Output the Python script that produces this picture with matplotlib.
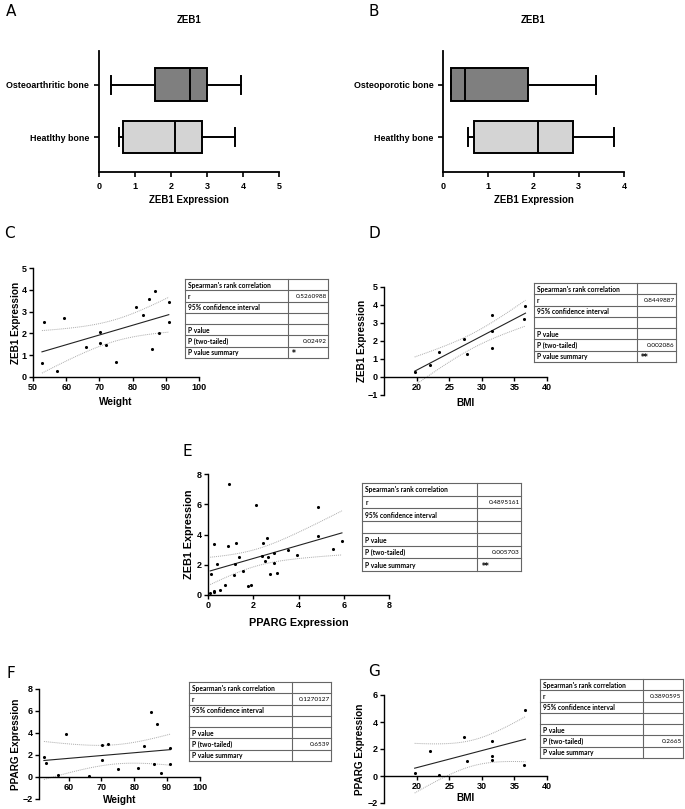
import numpy as np
import matplotlib
matplotlib.use('Agg')
from matplotlib import pyplot as plt

plt.rcParams['font.family'] = ['Liberation Sans', 'DejaVu Sans']

W, H = 685, 809

# box plot summaries: min, q1, median, q3, max
oa_stats = [0.33, 1.55, 2.52, 3.0, 3.95]
healthy_stats = [0.55, 0.68, 2.1, 2.87, 3.77]
op_stats = [0.18, 0.18, 0.48, 1.88, 3.38]

# C: weight vs ZEB1
weight_c = [52.7, 53.3, 57.2, 59.2, 66.1, 70.1, 70.1, 72.0, 75.0, 81.0, 83.0, 84.9, 85.9, 86.8, 87.9, 90.9, 90.9]
zeb1_c = [0.66, 2.51, 0.26, 2.69, 1.38, 2.08, 1.58, 1.49, 0.68, 3.23, 2.85, 3.60, 1.28, 3.95, 2.00, 3.43, 2.52]

# D: BMI vs ZEB1
bmi_d = [19.7, 22.0, 23.4, 27.3, 27.7, 31.5, 31.5, 31.5, 36.5, 36.7]
zeb1_d = [0.26, 0.67, 1.39, 2.11, 1.28, 3.43, 2.54, 1.59, 3.22, 3.96]

# E: PPARG vs ZEB1
pparg_e = [0.10, 0.15, 0.25, 0.25, 0.26, 0.40, 0.53, 0.76, 0.87, 0.95, 1.17, 1.20, 1.23, 1.35, 1.54,
           1.76, 1.88, 2.13, 2.39, 2.42, 2.54, 2.60, 2.64, 2.76, 2.92, 2.92, 3.04, 3.52, 3.95, 4.88,
           4.88, 5.51, 5.92]
zeb1_e = [0.13, 1.39, 3.37, 0.18, 0.29, 2.03, 0.33, 0.68, 3.22, 7.31, 1.30, 2.03, 3.41, 2.51, 1.59,
          0.57, 0.68, 5.95, 2.60, 3.41, 2.25, 3.74, 2.51, 1.39, 2.80, 2.09, 1.48, 2.97, 2.67, 5.84,
          3.92, 3.04, 3.57]

# F: weight vs PPARG
weight_f = [52.5, 53.2, 56.9, 59.1, 66.1, 70.1, 70.1, 72.1, 75.1, 81.1, 83.0, 85.1, 86.1, 87.0, 88.0, 91.0, 91.0]
pparg_f = [1.85, 1.29, 0.18, 3.91, 0.09, 2.89, 1.51, 2.98, 0.74, 0.80, 2.86, 5.91, 1.14, 4.86, 0.34, 2.62, 1.17]

# G: BMI vs PPARG
bmi_g = [19.7, 22.0, 23.4, 27.3, 27.7, 31.5, 31.5, 31.5, 36.5, 36.7]
pparg_g = [0.22, 1.88, 0.10, 2.91, 1.14, 2.62, 1.51, 1.19, 0.81, 4.89]

row_labels = ["Spearman's rank correlation", "r", "95% confidence interval", "",
              "P value", "P (two-tailed)", "P value summary"]
c_values = ["", "0.5260988", "", "", "", "0.02492", "*"]
d_values = ["", "0.8449887", "", "", "", "0.002086", "**"]
e_values = ["", "0.4895161", "", "", "", "0.005703", "**"]
f_values = ["", "0.1270127", "", "", "", "0.6539", ""]
g_values = ["", "0.3890595", "", "", "", "0.2665", ""]

# two sided 95% t values for the df used below
T_CRIT = {8: 2.306, 15: 2.131, 31: 2.040}

fig = plt.figure(figsize=(W / 100, H / 100), dpi=100)


def px_axes(left, top, right, bottom):
    return fig.add_axes([left / W, 1 - bottom / H, (right - left) / W, (bottom - top) / H])


def letter(x, y, s):
    fig.text(x / W, 1 - y / H, s, fontsize=11, ha='left', va='center', family='DejaVu Sans')


# put axis label centres at given pixel positions of the figure
def place_labels(ax, rect, xlab_y, ylab_x):
    left, top, right, bottom = rect
    ax.xaxis.set_label_coords(0.5, (bottom - xlab_y) / (bottom - top))
    ax.xaxis.label.set_va('center')
    ax.yaxis.set_label_coords((ylab_x - left) / (right - left), 0.5)
    ax.yaxis.label.set_va('center')


def box_panel(left, right, xmax, labels, stats_list, colors):
    ax = px_axes(left, 51, right, 172)
    stats = []
    for lab, s in zip(labels, stats_list):
        stats.append(dict(whislo=s[0], q1=s[1], med=s[2], q3=s[3], whishi=s[4], label=lab, fliers=[]))
    bp = ax.bxp(stats, positions=[1, 2], orientation='horizontal', widths=0.63, capwidths=0.33,
                patch_artist=True,
                boxprops=dict(linewidth=1.4, edgecolor='black'),
                whiskerprops=dict(linewidth=1.4),
                capprops=dict(linewidth=1.4),
                medianprops=dict(linewidth=1.4, color='black'))
    for patch, c in zip(bp['boxes'], colors):
        patch.set_facecolor(c)
    ax.set_ylim(0.33, 2.65)
    ax.set_xlim(0, xmax)
    ax.set_xticks(range(0, xmax + 1))
    for s in ['top', 'right']:
        ax.spines[s].set_visible(False)
    for s in ['left', 'bottom']:
        ax.spines[s].set_linewidth(1.3)
    ax.tick_params(width=1.2, length=3.5)
    for t in ax.get_xticklabels():
        t.set_fontweight('bold')
        t.set_fontsize(6.5)
    for t in ax.get_yticklabels():
        t.set_fontweight('bold')
        t.set_fontsize(6.4)
    ax.set_title('ZEB1', fontsize=7, fontweight='bold', pad=20)
    ax.set_xlabel('ZEB1 Expression', fontsize=7, fontweight='bold')
    place_labels(ax, (left, 51, right, 172), 200, left - 60)
    return ax


def scatter_panel(rect, x, y, xlim, ylim, xticks, yticks, xlabel, ylabel, zero_axis, xlab_y, ylab_x,
                  lab_size=7.2):
    ax = px_axes(*rect)
    x = np.array(x)
    y = np.array(y)
    n = len(x)
    slope, icpt = np.polyfit(x, y, 1)
    xs = np.linspace(x.min(), x.max(), 100)
    fit = slope * xs + icpt
    resid = y - (slope * x + icpt)
    s = np.sqrt(np.sum(resid ** 2) / (n - 2))
    sxx = np.sum((x - x.mean()) ** 2)
    half = T_CRIT[n - 2] * s * np.sqrt(1 / n + (xs - x.mean()) ** 2 / sxx)
    ax.plot(xs, fit, color='#222222', lw=0.8)
    ax.plot(xs, fit + half, color='#aaaaaa', lw=0.7, ls=(0, (1, 1)))
    ax.plot(xs, fit - half, color='#aaaaaa', lw=0.7, ls=(0, (1, 1)))
    ax.scatter(x, y, s=5, color='black', zorder=3, linewidths=0)
    ax.set_xlim(*xlim)
    ax.set_ylim(*ylim)
    ax.set_xticks(xticks)
    ax.set_yticks(yticks)
    for sp in ['top', 'right']:
        ax.spines[sp].set_visible(False)
    for sp in ['left', 'bottom']:
        ax.spines[sp].set_linewidth(1.0)
    if zero_axis:
        ax.spines['bottom'].set_position(('data', 0))
    ax.tick_params(width=1.0, length=3, labelsize=6.5, pad=1.5)
    for t in ax.get_xticklabels() + ax.get_yticklabels():
        t.set_fontweight('bold')
    ax.set_xlabel(xlabel, fontsize=lab_size, fontweight='bold')
    ax.set_ylabel(ylabel, fontsize=lab_size, fontweight='bold')
    place_labels(ax, rect, xlab_y, ylab_x)
    return ax


def stats_table(left, top, right, bottom, split, values):
    ax = px_axes(left, top, right, bottom)
    ax.set_xlim(0, 1)
    ax.set_ylim(len(row_labels), 0)
    ax.axis('off')
    sx = (split - left) / (right - left)
    for i in range(len(row_labels) + 1):
        ax.plot([0, 1], [i, i], color='#666666', lw=0.8, clip_on=False)
    ax.plot([0, 0], [0, len(row_labels)], color='#666666', lw=0.8, clip_on=False)
    ax.plot([1, 1], [0, len(row_labels)], color='#666666', lw=0.8, clip_on=False)
    ax.plot([sx, sx], [0, len(row_labels)], color='#666666', lw=0.8, clip_on=False)
    for i, (lab, val) in enumerate(zip(row_labels, values)):
        ax.text(0.02, i + 0.55, lab, fontsize=4.8, va='center', ha='left', family='Lato',
                fontweight='bold')
        if val.startswith('*'):
            ax.text(sx + 0.03, i + 0.62, val, fontsize=5.5, va='center', ha='left',
                    family='DejaVu Sans', fontweight='bold')
        else:
            ax.text(0.99, i + 0.55, val, fontsize=4.6, va='center', ha='right', family='Lato')


# A
letter(6, 11, 'A')
box_panel(99, 279, 5, ['Heatlthy bone', 'Osteoarthritic bone'], [healthy_stats, oa_stats],
          ['#d4d4d4', '#7f7f7f'])
# B
letter(368, 11, 'B')
box_panel(443, 624, 4, ['Heatlthy bone', 'Osteoporotic bone'], [healthy_stats, op_stats],
          ['#d4d4d4', '#7f7f7f'])

# C
letter(4, 233, 'C')
scatter_panel((33, 268, 199, 377), weight_c, zeb1_c, (50, 100), (0, 5), range(50, 101, 10),
              range(0, 6), 'Weight', 'ZEB1 Expression', False, 402, 16)
stats_table(185, 279, 328, 358, 288, c_values)

# D
letter(369, 233, 'D')
scatter_panel((384, 287, 547, 395), bmi_d, zeb1_d, (15, 40), (-1, 5), range(20, 41, 5),
              range(-1, 6), 'BMI', 'ZEB1 Expression', True, 403, 362)
stats_table(534, 283, 676, 362, 637, d_values)

# E
letter(183, 452, 'E')
scatter_panel((208, 474, 389, 595), pparg_e, zeb1_e, (0, 8), (0, 8), range(0, 9, 2),
              range(0, 9, 2), 'PPARG Expression', 'ZEB1 Expression', False, 623, 189, lab_size=7.8)
stats_table(362, 483, 521, 571, 477, e_values)

# F
letter(6, 673, 'F')
scatter_panel((39, 689, 200, 799), weight_f, pparg_f, (51, 100), (-2, 8), range(60, 101, 10),
              range(-2, 9, 2), 'Weight', 'PPARG Expression', True, 800, 16)
stats_table(189, 682, 331, 761, 292, f_values)

# G
letter(368, 672, 'G')
scatter_panel((384, 695, 547, 803), bmi_g, pparg_g, (15, 40), (-2, 6), range(20, 41, 5),
              range(-2, 7, 2), 'BMI', 'PPARG Expression', True, 798, 360)
stats_table(540, 679, 683, 758, 643, g_values)

fig.savefig('out.png', dpi=100)
